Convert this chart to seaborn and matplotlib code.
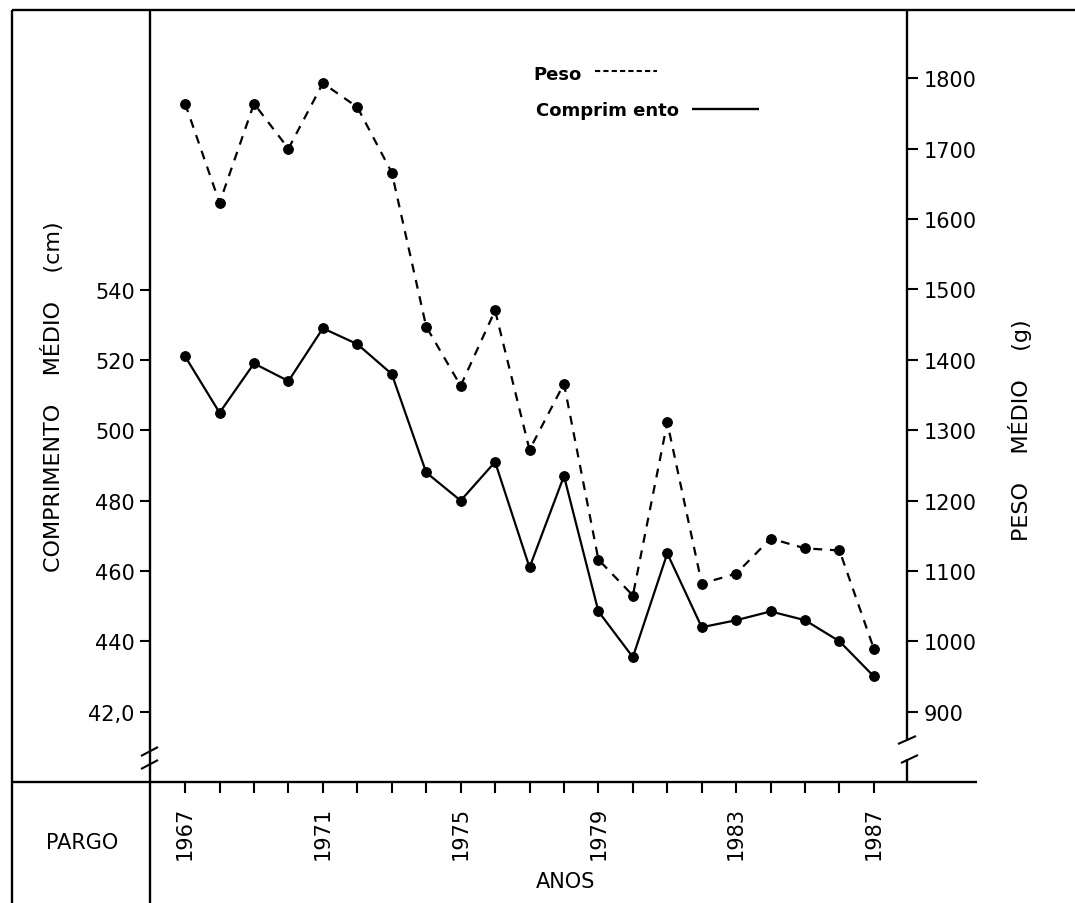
import matplotlib
matplotlib.use("Agg")
import matplotlib.pyplot as plt
from matplotlib.lines import Line2D
import pandas as pd
import seaborn as sns

# values
years = list(range(1967, 1988))
comprimento = [52.1, 50.5, 51.9, 51.4, 52.9, 52.45, 51.6, 48.8, 48.0, 49.1, 46.1,
               48.7, 44.85, 43.55, 46.5, 44.4, 44.6, 44.85, 44.6, 44.0, 43.0]
peso = [1764, 1623, 1764, 1700, 1793, 1759, 1666, 1447, 1363, 1470, 1272,
        1366, 1116, 1065, 1311, 1082, 1096, 1146, 1132, 1129, 989]

left_ticks = [42, 44, 46, 48, 50, 52, 54]
left_labels = ["42,0", "440", "460", "480", "500", "520", "540"]
right_ticks = [900, 1000, 1100, 1200, 1300, 1400, 1500, 1600, 1700, 1800]
year_labels = [str(y) if (y - 1967) % 4 == 0 else "" for y in years]

df = pd.DataFrame({"ano": years, "comprimento": comprimento, "peso": peso})

sns.set_theme(style="white")
plt.rcParams["font.family"] = ["DejaVu Sans"]

W, H = 1075, 904
fig = plt.figure(figsize=(W / 100, H / 100), dpi=100)
ax = fig.add_axes([150 / W, 1 - 783 / H, (907 - 150) / W, (783 - 11) / H])
ax2 = ax.twinx()

sns.lineplot(data=df, x="ano", y="comprimento", ax=ax, color="black",
             linewidth=1.6, marker="o", markersize=7, markeredgecolor="black")
sns.lineplot(data=df, x="ano", y="peso", ax=ax2, color="black",
             linewidth=1.6, linestyle=(0, (4, 3.5)), marker="o", markersize=7,
             markeredgecolor="black")

ax.set_xlim(1965.98, 1987.96)
ax.set_ylim(40.0, 61.95)
ax2.set_ylim(800, 1897)

for a in (ax, ax2):
    for s in a.spines.values():
        s.set_visible(False)
    a.set_xlabel("")
    a.set_ylabel("")

ax.set_yticks(left_ticks)
ax.set_yticklabels(left_labels)
ax.tick_params(axis="y", direction="out", length=7, width=1.5, pad=4,
               labelsize=15, left=True, colors="black")
ax2.set_yticks(right_ticks)
ax2.set_yticklabels([str(t) for t in right_ticks])
ax2.tick_params(axis="y", direction="out", length=8, width=1.5, pad=4,
                labelsize=15, right=True, colors="black")
ax.set_xticks(years)
ax.set_xticklabels(year_labels, rotation=90)
ax.tick_params(axis="x", direction="out", length=8, width=1.5, pad=9,
               labelsize=15, bottom=True, colors="black")


def fline(x0, y0, x1, y1, lw=1.7, ls="-"):
    fig.add_artist(Line2D([x0 / W, x1 / W], [1 - y0 / H, 1 - y1 / H],
                          transform=fig.transFigure, color="black", lw=lw,
                          linestyle=ls, solid_capstyle="butt"))


def ftext(x, y, s, **kw):
    fig.text(x / W, 1 - y / H, s, color="black", **kw)


# frame of the table-like layout
fline(12, 11, 1075, 11)
fline(12, 11, 12, 904)
fline(150, 11, 150, 904)
fline(12, 783, 977, 783)
fline(907, 11, 907, 742)
fline(907, 760, 907, 783)
# axis breaks
fline(141, 757, 158, 748, lw=1.5)
fline(141, 770, 158, 761, lw=1.5)
fline(898, 745, 916, 737, lw=1.5)
fline(901, 764, 918, 756, lw=1.5)

# legend written by hand like the original
ftext(533, 75, "Peso", fontsize=13, fontweight="bold", va="center")
fline(595, 72, 657, 72, lw=1.5, ls=(0, (2.5, 1.5)))
ftext(536, 111, "Comprim ento", fontsize=13, fontweight="bold", va="center")
fline(692, 110, 759, 110, lw=1.7)

ftext(53, 397, "COMPRIMENTO    MÉDIO    (cm)", fontsize=16, rotation=90,
      ha="center", va="center")
ftext(1020, 430, "PESO    MÉDIO    (g)", fontsize=16, rotation=90,
      ha="center", va="center")
ftext(82, 843, "PARGO", fontsize=15, ha="center", va="center")
ftext(566, 882, "ANOS", fontsize=15, ha="center", va="center")

fig.savefig("out.png", dpi=100)
